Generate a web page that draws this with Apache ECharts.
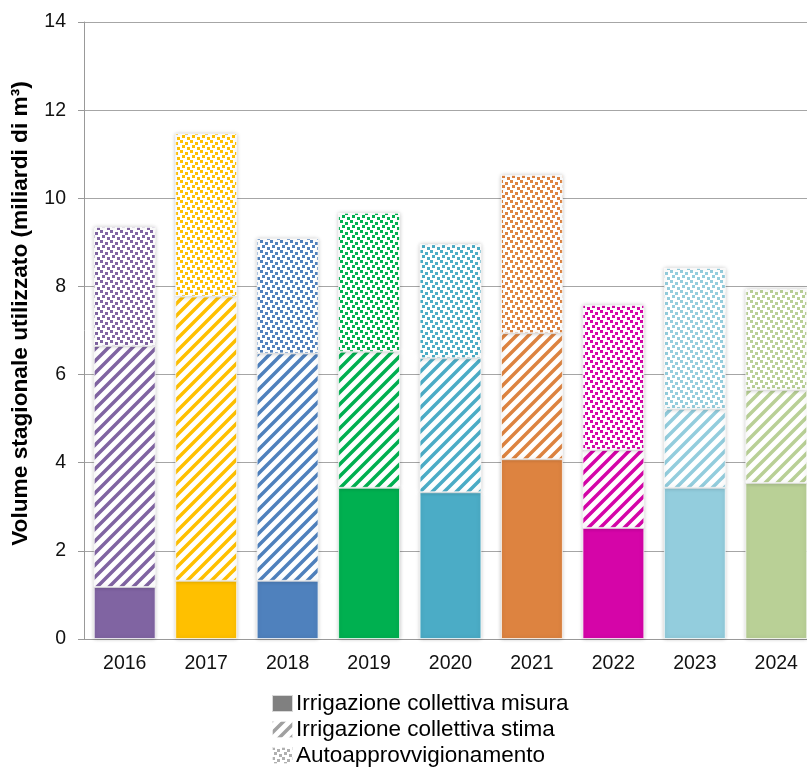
<!DOCTYPE html>
<html>
<head>
<meta charset="utf-8">
<script src="https://cdn.jsdelivr.net/npm/echarts@6/dist/echarts.min.js"></script>
<style>
html,body{margin:0;padding:0;background:#fff;}
#chart{width:807px;height:767px;}
</style>
</head>
<body>
<div id="chart"></div>
<script>
var years = ['2016', '2017', '2018', '2019', '2020', '2021', '2022', '2023', '2024'];
var misura = [1.18, 1.32, 1.32, 3.43, 3.33, 4.08, 2.52, 3.43, 3.54];
var stima = [5.47, 6.45, 5.16, 3.09, 3.04, 2.86, 1.77, 1.79, 2.11];
var autoapp = [2.70, 3.70, 2.61, 3.15, 2.59, 3.59, 3.29, 3.20, 2.29];
var yearColors = ['#8064a2', '#ffc000', '#4f81bd', '#00b050', '#4bacc6', '#dd8340', '#d505a8', '#93cddd', '#b9d096'];
var legendNames = ['Irrigazione collettiva misura', 'Irrigazione collettiva stima', 'Autoapprovvigionamento'];

// diagonal stripes "/"
function stripe(color) {
    var s = 12;
    var c = document.createElement('canvas');
    c.width = s; c.height = s;
    var ctx = c.getContext('2d');
    ctx.fillStyle = '#fff';
    ctx.fillRect(0, 0, s, s);
    ctx.strokeStyle = color;
    ctx.lineWidth = 3.5;
    ctx.beginPath();
    ctx.moveTo(-s, s * 2); ctx.lineTo(s * 2, -s);
    ctx.moveTo(-s, s); ctx.lineTo(s, -s);
    ctx.moveTo(0, s * 2); ctx.lineTo(s * 2, 0);
    ctx.stroke();
    return {image: c, repeat: 'repeat'};
}

// little squares scattered
var dotPos = [[0, 0], [5, 2], [2, 5], [7, 7]];
function dots(color) {
    var w = 10, h = 10;
    var c = document.createElement('canvas');
    c.width = w; c.height = h;
    var ctx = c.getContext('2d');
    ctx.fillStyle = '#fff';
    ctx.fillRect(0, 0, w, h);
    ctx.fillStyle = color;
    dotPos.forEach(function (p) {
        ctx.fillRect(p[0], p[1], 3, 3);
    });
    return {image: c, repeat: 'repeat'};
}

function build(vals, kind) {
    return vals.map(function (v, i) {
        var col = yearColors[i];
        if (kind === 1) col = stripe(yearColors[i]);
        if (kind === 2) col = dots(yearColors[i]);
        return {value: v, itemStyle: {color: col}};
    });
}

var barStyle = {
    borderColor: 'rgba(255,255,255,0.7)',
    borderWidth: 1,
    shadowBlur: 4,
    shadowColor: 'rgba(0,0,0,0.22)'
};

var chart = echarts.init(document.getElementById('chart'));
var option = {
    animation: false,
    textStyle: {fontFamily: 'Liberation Sans, Arial, sans-serif'},
    grid: {left: 84, top: 22, width: 733, height: 617, outerBoundsMode: 'none', containLabel: false},
    legend: {
        orient: 'vertical',
        left: 271,
        top: 692,
        padding: 0,
        itemWidth: 21,
        itemHeight: 17,
        itemGap: 3,
        textStyle: {fontSize: 22.5, color: '#000', padding: [0, 0, 0, -2]},
        data: [
            {name: legendNames[0], icon: 'rect', itemStyle: {color: '#808080'}},
            {name: legendNames[1], icon: 'rect', itemStyle: {color: stripe('#a0a0a0')}},
            {name: legendNames[2], icon: 'rect', itemStyle: {color: dots('#b0b0b0')}}
        ]
    },
    xAxis: {
        type: 'category',
        data: years,
        axisLine: {lineStyle: {color: '#999'}},
        axisTick: {length: 6, lineStyle: {color: '#999'}},
        axisLabel: {fontSize: 19.5, color: '#111', margin: 15}
    },
    yAxis: {
        type: 'value',
        min: 0,
        max: 14,
        interval: 2,
        name: 'Volume stagionale utilizzato (miliardi di m³)',
        nameLocation: 'middle',
        nameGap: 52,
        nameTextStyle: {fontSize: 22.7, fontWeight: 'bold', color: '#000', padding: [0, 0, 0, 34]},
        axisLine: {show: true, lineStyle: {color: '#999'}},
        axisTick: {show: true, length: 6, lineStyle: {color: '#999'}},
        axisLabel: {fontSize: 19.5, color: '#111', margin: 18},
        splitLine: {lineStyle: {color: '#a6a6a6'}}
    },
    series: [
        {name: legendNames[0], type: 'bar', stack: 'v', barWidth: '76%', itemStyle: barStyle, data: build(misura, 0)},
        {name: legendNames[1], type: 'bar', stack: 'v', barWidth: '76%', itemStyle: barStyle, data: build(stima, 1)},
        {name: legendNames[2], type: 'bar', stack: 'v', barWidth: '76%', itemStyle: barStyle, data: build(autoapp, 2)}
    ]
};
chart.setOption(option);
</script>
</body>
</html>
